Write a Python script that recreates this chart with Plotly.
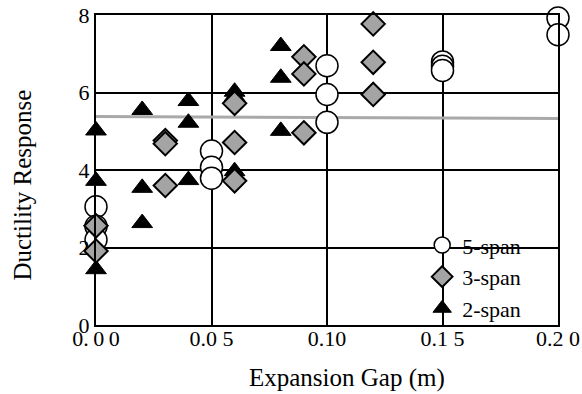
import plotly.graph_objects as go

# 5-span (circles)
x5 = [0.0, 0.0, 0.0, 0.05, 0.05, 0.05, 0.10, 0.10, 0.10, 0.15, 0.15, 0.15, 0.20, 0.20]
y5 = [3.05, 2.55, 2.2, 4.49, 4.07, 3.79, 6.69, 5.95, 5.23, 6.79, 6.68, 6.57, 7.92, 7.49]

# 3-span (diamonds)
x3 = [0.0, 0.0, 0.03, 0.03, 0.03, 0.06, 0.06, 0.06, 0.09, 0.09, 0.09, 0.12, 0.12, 0.12]
y3 = [2.56, 1.91, 4.76, 4.68, 3.6, 5.72, 4.71, 3.72, 6.92, 6.48, 4.96, 7.77, 6.78, 5.95]

# 2-span (triangles)
x2 = [0.0, 0.0, 0.0, 0.02, 0.02, 0.02, 0.04, 0.04, 0.04, 0.06, 0.06, 0.06, 0.08, 0.08, 0.08]
y2 = [5.02, 3.72, 1.44, 5.55, 3.54, 2.63, 5.78, 5.22, 3.74, 6.02, 5.9, 3.97, 7.2, 6.38, 5.01]

# mean line
xm = [0.0, 0.20]
ym = [5.38, 5.33]

xtick_vals = [0.0, 0.05, 0.10, 0.15, 0.20]
xtick_text = ["0.\u20090\u20090", "0.0 5", "0.10", "0.1 5", "0.2 0"]
ytick_vals = [0, 2, 4, 6, 8]

FONT = "Liberation Serif"

fig = go.Figure()
fig.add_trace(go.Scatter(x=xm, y=ym, mode="lines", line=dict(color="#a9a9a9", width=3),
                         showlegend=False, hoverinfo="skip"))
fig.add_trace(go.Scatter(x=x2, y=y2, mode="markers", name="2-span", legendrank=3,
                         marker=dict(symbol="triangle-up", size=18, color="black",
                                     line=dict(color="black", width=1)),
                         cliponaxis=False))
fig.add_trace(go.Scatter(x=x5, y=y5, mode="markers", name="5-span", legendrank=1,
                         marker=dict(symbol="circle", size=22, color="white",
                                     line=dict(color="black", width=1.5)),
                         cliponaxis=False))
fig.add_trace(go.Scatter(x=x3, y=y3, mode="markers", name="3-span", legendrank=2,
                         marker=dict(symbol="diamond", size=18, color="#a4a4a4",
                                     line=dict(color="black", width=2)),
                         cliponaxis=False))

fig.update_layout(
    width=582, height=394,
    margin=dict(l=96, r=24, t=15, b=69, autoexpand=False),
    paper_bgcolor="white", plot_bgcolor="white",
    font=dict(family=FONT, color="black", size=22),
    legend=dict(x=0.706, y=0.325, xanchor="left", yanchor="top",
                bgcolor="rgba(0,0,0,0)", font=dict(family=FONT, size=22),
                itemwidth=30, traceorder="normal"),
    annotations=[
        dict(text="Expansion Gap (m)", xref="paper", yref="paper", x=0.543, y=-0.171,
             xanchor="center", yanchor="middle", showarrow=False,
             font=dict(family=FONT, size=25)),
        dict(text="Ductility Response", xref="paper", yref="paper", x=-0.160, y=0.45,
             xanchor="center", yanchor="middle", showarrow=False, textangle=-90,
             font=dict(family=FONT, size=25)),
    ],
)
fig.update_xaxes(range=[0, 0.2], tickvals=xtick_vals, ticktext=xtick_text,
                 showline=True, mirror=True, linecolor="black", linewidth=2,
                 showgrid=True, gridcolor="black", gridwidth=1.5, zeroline=False,
                 ticks="", ticklabelstandoff=-7, automargin=False,
                 tickfont=dict(family=FONT, size=22))
fig.update_yaxes(range=[0, 8], tickvals=ytick_vals,
                 showline=True, mirror=True, linecolor="black", linewidth=2,
                 showgrid=True, gridcolor="black", gridwidth=1.5, zeroline=False,
                 ticks="", automargin=False,
                 tickfont=dict(family=FONT, size=22))

fig.write_html("out.html")
